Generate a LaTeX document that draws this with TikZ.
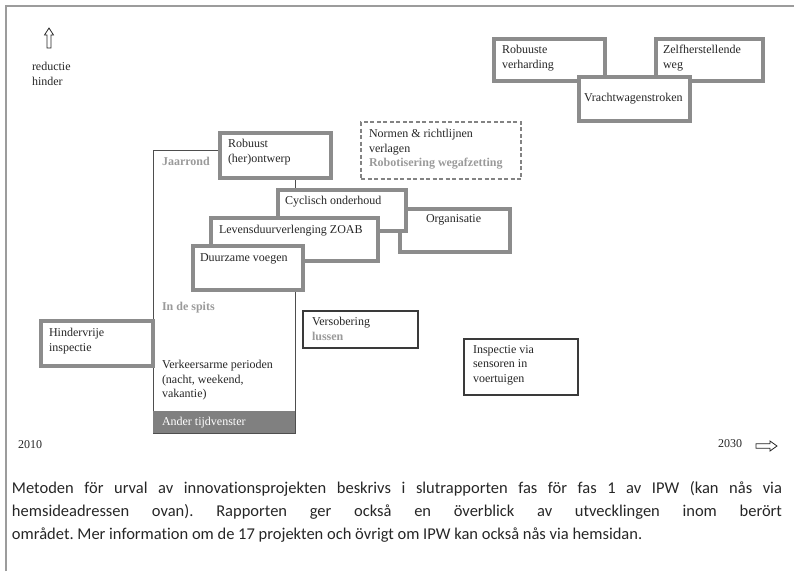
\documentclass[tikz,border=0pt]{standalone}
\usepackage{fontspec}
\setmainfont{Liberation Serif}
\newfontfamily\notefont[Ligatures=CommonOff]{Carlito}
\definecolor{ink}{HTML}{262626}
\definecolor{softgray}{HTML}{9A9A9A}
\definecolor{boxgray}{HTML}{8C8C8C}
\definecolor{framegray}{HTML}{9C9C9C}
\definecolor{thinline}{HTML}{3A3A3A}
\definecolor{barfill}{HTML}{808080}
\begin{document}
\frenchspacing
\begin{tikzpicture}[x=1pt,y=-1pt,
  every node/.style={inner sep=0pt, outer sep=0pt},
  lbl/.style={anchor=north west, align=left, text=ink,
    font=\fontsize{12}{14.5}\selectfont},
  faint/.style={lbl, text=softgray, font=\fontsize{12}{14.5}\selectfont\bfseries},
  heavybox/.style={draw=boxgray, line width=4pt, fill=white, rectangle},
  lightbox/.style={draw=thinline, line width=1.1pt, fill=white, rectangle},
  dashbox/.style={draw=softgray!85!black, line width=1.2pt, dash pattern=on 4pt off 2.5pt, rectangle},
  hollowarrow/.style={draw=ink, line width=0.8pt, fill=white, line join=miter}
]
\useasboundingbox (0,0) rectangle (794,571);

% outer frame (top and left only)
\draw[framegray, line width=2.5pt] (6,571) -- (6,6) -- (794,6);

% vertical axis hint
\draw[hollowarrow] (49,28) -- (53.5,35) -- (51,35) -- (51,48) -- (47,48) -- (47,35) -- (44.5,35) -- cycle;
\node[lbl] (axisy) at (32,62.5) {reductie\\hinder};

% time window frame
\node[draw=thinline!90, line width=1pt, rectangle, minimum width=142pt, minimum height=283pt] (window) at (224,291.5) {};
\node[fill=barfill, rectangle, minimum width=142pt, minimum height=22pt] (bar) at (224,422) {};
\draw[thinline!90, line width=1pt] (window.south west) -- (window.south east);
\node[lbl, text=white] (barT) at (162,417) {Ander tijdvenster};
\node[faint] (jaar) at (162,157.5) {Jaarrond};
\node[faint] (spits) at (162,302.5) {In de spits};
\node[lbl] (verk) at (162,360.5) {Verkeersarme perioden\\(nacht, weekend,\\vakantie)};

% maintenance cluster
\node[heavybox, minimum width=110pt, minimum height=43pt] (org) at (455,230.5) {};
\node[lbl] (orgT) at (426,214.5) {Organisatie};
\node[heavybox, minimum width=128pt, minimum height=41pt] (cyc) at (342,210.5) {};
\node[lbl] (cycT) at (285,196.5) {Cyclisch onderhoud};
\node[heavybox, minimum width=167pt, minimum height=43pt] (lev) at (294.5,239.5) {};
\node[lbl] (levT) at (219,225.5) {Levensduurverlenging ZOAB};
\node[heavybox, minimum width=110pt, minimum height=44pt] (duu) at (248,268) {};
\node[lbl] (duuT) at (200,253.5) {Duurzame voegen};
\node[heavybox, minimum width=111pt, minimum height=45pt] (rob) at (275.5,155.5) {};
\node[lbl] (robT) at (228,139.5) {Robuust\\(her)ontwerp};

\node[heavybox, minimum width=112pt, minimum height=45pt] (hin) at (97,343.5) {};
\node[lbl] (hinT) at (49,328.5) {Hindervrije\\inspectie};

% thin boxes
\node[lightbox, minimum width=115pt, minimum height=37pt] (vers) at (360.5,329.5) {};
\node[lbl] (versT) at (312,317.5) {Versobering\\\textcolor{softgray}{\bfseries lussen}};
\node[lightbox, minimum width=114pt, minimum height=56pt] (insp) at (521,367) {};
\node[lbl] (inspT) at (473,345.5) {Inspectie via\\sensoren in\\voertuigen};

% dashed box
\node[dashbox, minimum width=160pt, minimum height=57pt] (norm) at (441,150.5) {};
\node[lbl] (normT) at (369,129.5) {Normen \& richtlijnen\\verlagen\\\textcolor{softgray}{\bfseries Robotisering wegafzetting}};

% long-term cluster
\node[heavybox, minimum width=111pt, minimum height=42pt] (rv) at (549.5,60) {};
\node[lbl] (rvT) at (502,45.5) {Robuuste\\verharding};
\node[heavybox, minimum width=107pt, minimum height=42pt] (zh) at (709.5,60) {};
\node[lbl] (zhT) at (663,45.5) {Zelfherstellende\\weg};
\node[heavybox, minimum width=111pt, minimum height=44pt] (vw) at (634.5,99) {};
\node[lbl] (vwT) at (584,93.5) {Vrachtwagenstroken};

% time axis
\node[lbl] (y2010) at (18,440.5) {2010};
\node[lbl] (y2030) at (718,439.5) {2030};
\draw[hollowarrow] (777,446) -- (770,441) -- (770,443.8) -- (756,443.8) -- (756,448.2) -- (770,448.2) -- (770,451) -- cycle;

% caption paragraph
\node[anchor=north west, text width=770pt, align=justify, text=ink,
  font=\notefont\fontsize{16.5}{23}\selectfont] (note) at (12,481)
{Metoden för urval av innovationsprojekten beskrivs i slutrapporten fas för fas 1 av IPW (kan nås via\linebreak
hemsideadressen ovan). Rapporten ger också en överblick av utvecklingen inom berört\linebreak
området. Mer information om de 17 projekten och övrigt om IPW kan också nås via hemsidan.};
\end{tikzpicture}
\end{document}
